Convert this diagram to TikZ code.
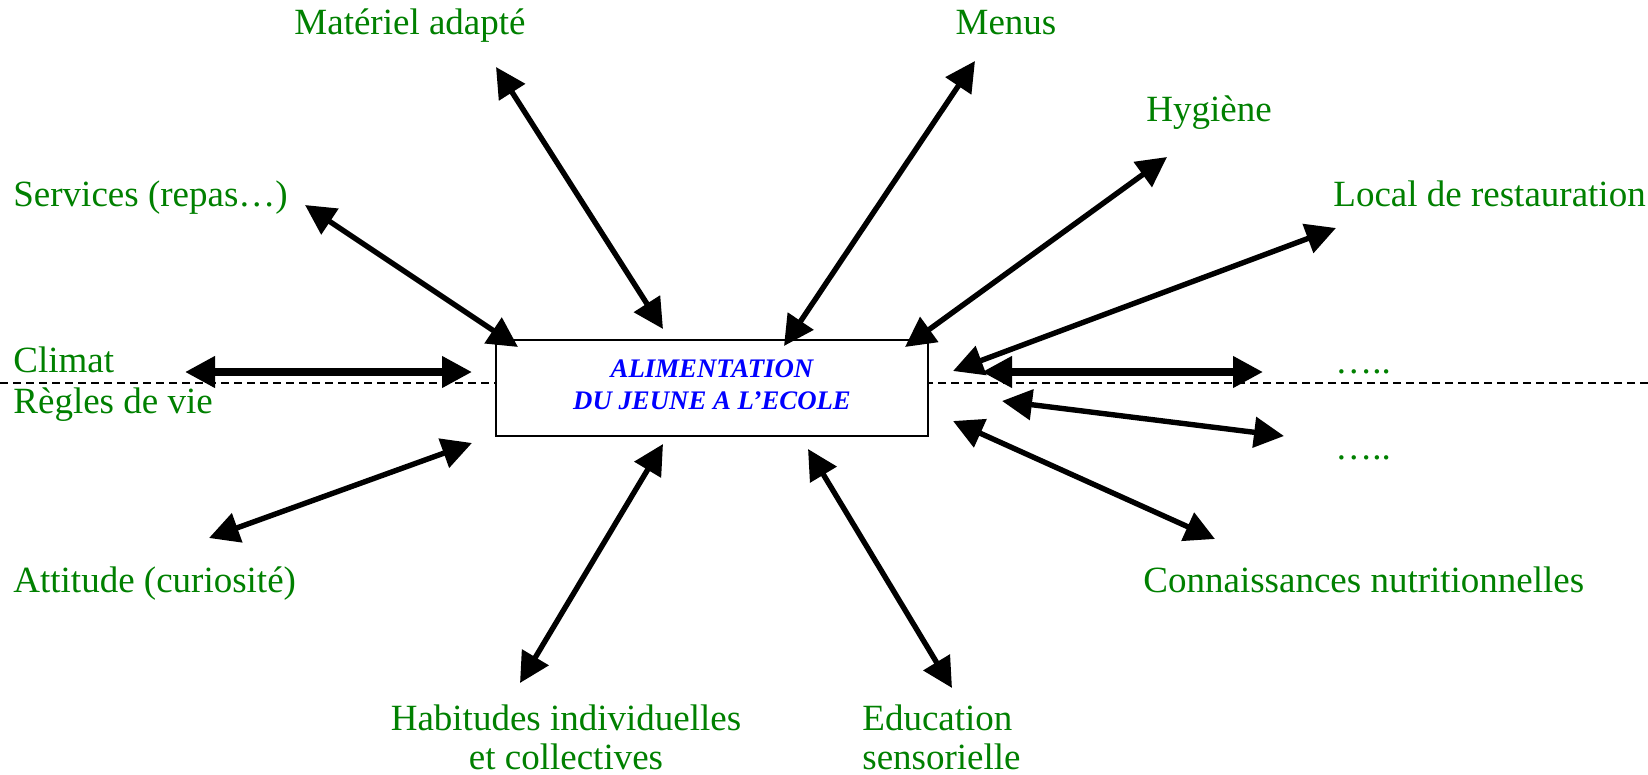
\documentclass[tikz,border=0pt]{standalone}
\usepackage{fontspec}
\setmainfont{Liberation Serif}
\usetikzlibrary{arrows.meta}
\definecolor{lbl}{RGB}{0,128,0}
\definecolor{ttl}{RGB}{0,0,255}
\tikzset{
  lab/.style={text=lbl, font=\fontsize{18.5}{19.5}\selectfont, inner sep=0pt, align=left},
  labc/.style={lab, align=center},
  box/.style={draw, line width=1pt, minimum width=216pt, minimum height=48pt, inner sep=0pt},
  title/.style={text=ttl, font=\fontsize{13.4}{15.8}\selectfont\bfseries\itshape, align=center, inner sep=0pt},
  tip/.tip={Triangle[length=15pt,width=15pt]},
  link/.style={line width=2.7pt, tip-tip},
  thicklink/.style={line width=3.6pt, tip-tip},
  divider/.style={line width=0.75pt, dash pattern=on 4pt off 2.5pt}
}
\begin{document}
\begin{tikzpicture}[x=0.5pt,y=-0.5pt]
\useasboundingbox (0,0) rectangle (1648,775);
% centre box
\node[box] (c) at (712,388) {};
\coordinate (dl) at (0,383);
\coordinate (dr) at (1648,383);
\draw[divider] (dl) -- (dl -| c.west);
\draw[divider] (dr) -- (dr -| c.east);
\node[title] (t) at (712,385) {ALIMENTATION\\DU JEUNE A L’ECOLE};
% labels
\node[lab, anchor=base] (mat) at (410,35) {Matériel adapté};
\node[lab, anchor=base] (men) at (1006,35) {Menus};
\node[lab, anchor=base west] (hyg) at (1146,122) {Hygiène};
\node[lab, anchor=base west] (loc) at (1333,207) {Local de restauration};
\node[lab, anchor=base west] (ser) at (13,206) {Services (repas…)};
\node[lab, anchor=base west] (cli) at (13,372) {Climat};
\node[lab, anchor=base west] (reg) at (13,413) {Règles de vie};
\node[lab, anchor=base west] (d1) at (1335,373) {…..};
\node[lab, anchor=base west] (d2) at (1335,459) {…..};
\node[lab, anchor=base west] (att) at (13,592) {Attitude (curiosité)};
\node[lab, anchor=base west] (con) at (1143,592) {Connaissances nutritionnelles};
\node[labc, anchor=base] (hab) at (566,769) {Habitudes individuelles\\et collectives};
\node[lab, anchor=base west] (edu) at (862,769) {Education\\sensorielle};
% arrow end points
\coordinate (serA) at (305,205);  \coordinate (serB) at (518,347);
\coordinate (matA) at (496,67);   \coordinate (matB) at (663,329);
\coordinate (menA) at (975,61);   \coordinate (menB) at (784,346);
\coordinate (hygA) at (1167,157); \coordinate (hygB) at (905,347);
\coordinate (locA) at (1336,228); \coordinate (locB) at (953,371);
\coordinate (cliA) at (185,372);  \coordinate (cliB) at (472,372);
\coordinate (d1A) at (982,372);   \coordinate (d1B) at (1263,372);
\coordinate (d2A) at (1002,401);  \coordinate (d2B) at (1284,436);
\coordinate (conA) at (953,421);  \coordinate (conB) at (1215,539);
\coordinate (attA) at (209,538);  \coordinate (attB) at (472,443);
\coordinate (habA) at (520,683);  \coordinate (habB) at (663,444);
\coordinate (eduA) at (952,688);  \coordinate (eduB) at (808,449);
% connectors
\draw[link] (serA) -- (serB);
\draw[link] (matA) -- (matB);
\draw[link] (menA) -- (menB);
\draw[link] (hygA) -- (hygB);
\draw[link] (locA) -- (locB);
\draw[thicklink] (cliA) -- (cliB);
\draw[thicklink] (d1A) -- (d1B);
\draw[link] (d2A) -- (d2B);
\draw[link] (conA) -- (conB);
\draw[link] (attA) -- (attB);
\draw[link] (habA) -- (habB);
\draw[link] (eduA) -- (eduB);
\end{tikzpicture}
\end{document}
